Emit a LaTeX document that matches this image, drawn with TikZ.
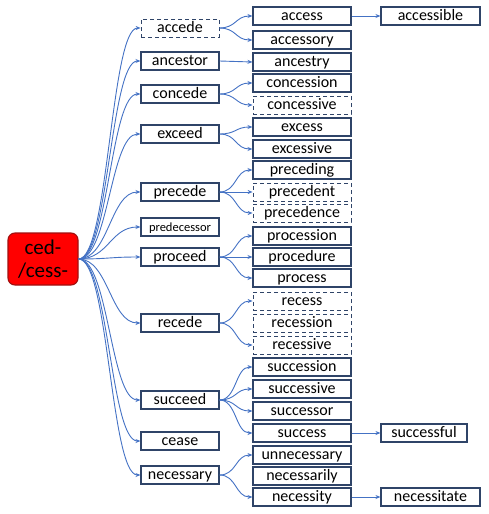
\documentclass[tikz,border=0pt]{standalone}
\usepackage{fontspec}
\setmainfont{Carlito}
\usetikzlibrary{arrows.meta}

\definecolor{boxline}{HTML}{2F4468}
\definecolor{linkblue}{HTML}{4472C4}
\definecolor{rootline}{HTML}{A01010}

\tikzstyle{word} = [draw=boxline, line width=1.1pt, minimum width=78pt, minimum height=18pt, inner sep=0pt, text height=12.7pt, text depth=3.3pt, font=\fontsize{16}{18}\selectfont]
\tikzstyle{derived} = [word, minimum width=98pt]
\tikzstyle{guess} = [line width=0.8pt, dash pattern=on 4pt off 3pt]
\tikzstyle{link} = [draw=linkblue, line width=0.9pt, -{Stealth[length=5pt,width=4pt]}]
\tikzstyle{root} = [draw=rootline, fill=red, line width=1.1pt, rounded corners=7pt, minimum width=70pt, minimum height=52pt, inner sep=0pt, align=center, font=\fontsize{21}{23}\selectfont]

\begin{document}
\begin{tikzpicture}[x=1pt,y=-1pt]
	\useasboundingbox (0,0) rectangle (489,514);

	\node[root] (ced) at (43,259) {ced-\\/cess-};

	% verbs
	\node[word,guess] (accede) at (180,28) {accede};
	\node[word] (ancestor) at (180,61) {ancestor};
	\node[word] (concede) at (180,94) {concede};
	\node[word] (exceed) at (180,134) {exceed};
	\node[word] (precede) at (180,192) {precede};
	\node[word,font=\fontsize{12.5}{14}\selectfont] (predecessor) at (180,227) {predecessor};
	\node[word] (proceed) at (180,257) {proceed};
	\node[word] (recede) at (180,323) {recede};
	\node[word] (succeed) at (180,400) {succeed};
	\node[word] (cease) at (180,441) {cease};
	\node[word] (necessary) at (180,475) {necessary};

	% derived words
	\node[derived] (access) at (302,16) {access};
	\node[derived] (accessory) at (302,40) {accessory};
	\node[derived] (ancestry) at (302,62) {ancestry};
	\node[derived] (concession) at (302,83) {concession};
	\node[derived,guess] (concessive) at (302,105) {concessive};
	\node[derived] (excess) at (302,127) {excess};
	\node[derived] (excessive) at (302,149) {excessive};
	\node[derived] (preceding) at (302,170) {preceding};
	\node[derived,guess] (precedent) at (302,192) {precedent};
	\node[derived,guess] (precedence) at (302,213) {precedence};
	\node[derived] (procession) at (302,236) {procession};
	\node[derived] (procedure) at (302,257) {procedure};
	\node[derived] (process) at (302,278) {process};
	\node[derived,guess] (recess) at (302,301) {recess};
	\node[derived,guess] (recession) at (302,323) {recession};
	\node[derived,guess] (recessive) at (302,345) {recessive};
	\node[derived] (succession) at (302,367) {succession};
	\node[derived] (successive) at (302,389) {successive};
	\node[derived] (successor) at (302,411) {successor};
	\node[derived] (success) at (302,433) {success};
	\node[derived] (unnecessary) at (302,455) {unnecessary};
	\node[derived] (necessarily) at (302,476) {necessarily};
	\node[derived] (necessity) at (302,497) {necessity};

	\node[derived,minimum width=99pt] (accessible) at (430.5,16) {accessible};
	\node[derived,minimum width=86pt] (successful) at (424,433) {successful};
	\node[derived,minimum width=99pt] (necessitate) at (430.5,497) {necessitate};

	% root to verbs
	\draw[link] (ced.east) .. controls +(30,0) and +(-30,0) .. (accede.west);
	\draw[link] (ced.east) .. controls +(30,0) and +(-30,0) .. (ancestor.west);
	\draw[link] (ced.east) .. controls +(30,0) and +(-30,0) .. (concede.west);
	\draw[link] (ced.east) .. controls +(30,0) and +(-30,0) .. (exceed.west);
	\draw[link] (ced.east) .. controls +(30,0) and +(-30,0) .. (precede.west);
	\draw[link] (ced.east) .. controls +(30,0) and +(-30,0) .. (predecessor.west);
	\draw[link] (ced.east) .. controls +(30,0) and +(-30,0) .. (proceed.west);
	\draw[link] (ced.east) .. controls +(30,0) and +(-30,0) .. (recede.west);
	\draw[link] (ced.east) .. controls +(30,0) and +(-30,0) .. (succeed.west);
	\draw[link] (ced.east) .. controls +(30,0) and +(-30,0) .. (cease.west);
	\draw[link] (ced.east) .. controls +(30,0) and +(-30,0) .. (necessary.west);

	% verbs to derived words
	\draw[link] (accede.east) .. controls +(17,0) and +(-17,0) .. (access.west);
	\draw[link] (accede.east) .. controls +(17,0) and +(-17,0) .. (accessory.west);
	\draw[link] (ancestor.east) -- (ancestry.west);
	\draw[link] (concede.east) .. controls +(17,0) and +(-17,0) .. (concession.west);
	\draw[link] (concede.east) .. controls +(17,0) and +(-17,0) .. (concessive.west);
	\draw[link] (exceed.east) .. controls +(17,0) and +(-17,0) .. (excess.west);
	\draw[link] (exceed.east) .. controls +(17,0) and +(-17,0) .. (excessive.west);
	\draw[link] (precede.east) .. controls +(17,0) and +(-17,0) .. (preceding.west);
	\draw[link] (precede.east) -- (precedent.west);
	\draw[link] (precede.east) .. controls +(17,0) and +(-17,0) .. (precedence.west);
	\draw[link] (proceed.east) .. controls +(17,0) and +(-17,0) .. (procession.west);
	\draw[link] (proceed.east) -- (procedure.west);
	\draw[link] (proceed.east) .. controls +(17,0) and +(-17,0) .. (process.west);
	\draw[link] (recede.east) .. controls +(17,0) and +(-17,0) .. (recess.west);
	\draw[link] (recede.east) .. controls +(17,0) and +(-17,0) .. (recessive.west);
	\draw[link] (succeed.east) .. controls +(17,0) and +(-17,0) .. (succession.west);
	\draw[link] (succeed.east) .. controls +(17,0) and +(-17,0) .. (successive.west);
	\draw[link] (succeed.east) .. controls +(17,0) and +(-17,0) .. (successor.west);
	\draw[link] (succeed.east) .. controls +(17,0) and +(-17,0) .. (success.west);
	\draw[link] (necessary.east) .. controls +(17,0) and +(-17,0) .. (unnecessary.west);
	\draw[link] (necessary.east) .. controls +(17,0) and +(-17,0) .. (necessity.west);

	% further derived
	\draw[link] (access.east) -- (accessible.west);
	\draw[link] (success.east) -- (successful.west);
	\draw[link] (necessity.east) -- (necessitate.west);
\end{tikzpicture}
\end{document}
